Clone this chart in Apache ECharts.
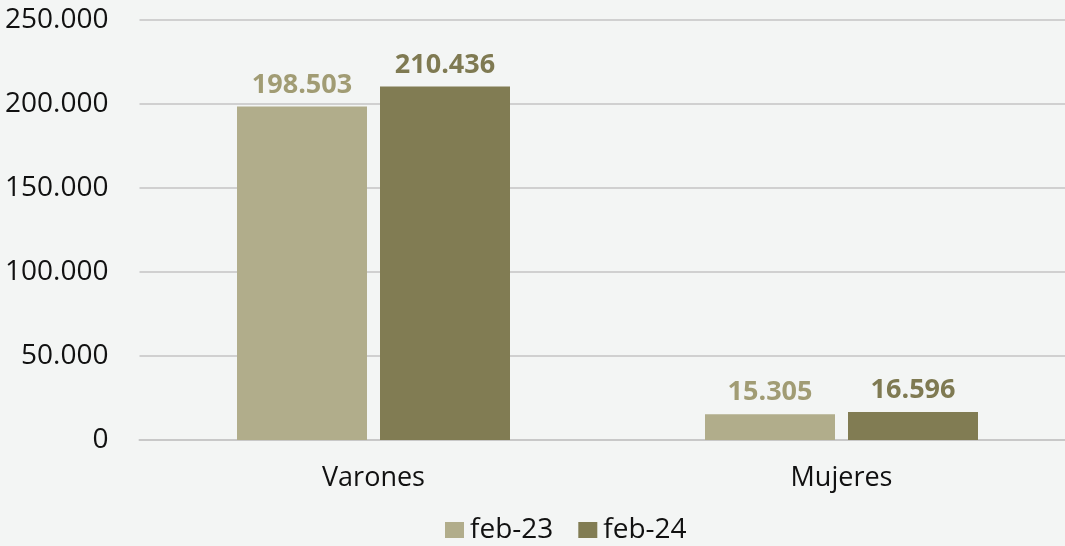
<!DOCTYPE html>
<html><head><meta charset="utf-8">
<script src="https://cdn.jsdelivr.net/npm/echarts@6/dist/echarts.min.js"></script>
<style>html,body{margin:0;padding:0;background:#f3f5f4;}#c{width:1065px;height:546px;}</style>
</head><body><div id="c"></div>
<script>
const categories = ['Varones', 'Mujeres'];
const seriesNames = ['feb-23', 'feb-24'];
const feb23 = [198503, 15305];
const feb24 = [210436, 16596];
const yTicks = { min: 0, max: 250000, interval: 50000 };

function fmt(v) { return String(Math.round(v)).replace(/\B(?=(\d{3})+(?!\d))/g, '.'); }

const chart = echarts.init(document.getElementById('c'));
const font = 'Open Sans, Liberation Sans, sans-serif';
chart.setOption({
  backgroundColor: '#f3f5f4',
  animation: false,
  grid: { left: 139.5, width: 936, top: 20, height: 420, containLabel: false, outerBoundsMode: 'none' },
  legend: {
    data: seriesNames, left: 445, top: 516, itemWidth: 19, itemHeight: 16, itemGap: 25,
    icon: 'rect', padding: 0,
    textStyle: { fontSize: 28, color: '#111', fontFamily: font, padding: [0, 0, 0, 1] }
  },
  xAxis: {
    type: 'category', data: categories,
    axisLine: { lineStyle: { color: '#c8c8c8', width: 2 } },
    axisTick: { show: false },
    axisLabel: { fontSize: 27, color: '#111', fontFamily: font, margin: 25 }
  },
  yAxis: {
    type: 'value', min: yTicks.min, max: yTicks.max, interval: yTicks.interval,
    axisLine: { show: false }, axisTick: { show: false },
    splitLine: { lineStyle: { color: '#d0d0d0', width: 2 } },
    axisLabel: { fontSize: 28, color: '#111', fontFamily: font, margin: 31, formatter: fmt }
  },
  series: [
    { name: seriesNames[0], type: 'bar', data: feb23, barWidth: 130, barGap: '10%',
      itemStyle: { color: '#b1ad8b' },
      label: { show: true, position: 'top', distance: 8, formatter: p => fmt(p.value),
        fontSize: 27, fontWeight: 'bold', color: '#a19c74', fontFamily: font } },
    { name: seriesNames[1], type: 'bar', data: feb24, barWidth: 130, barGap: '10%',
      itemStyle: { color: '#817c53' },
      label: { show: true, position: 'top', distance: 8, formatter: p => fmt(p.value),
        fontSize: 27, fontWeight: 'bold', color: '#7f7a52', fontFamily: font } }
  ]
});
</script></body></html>
